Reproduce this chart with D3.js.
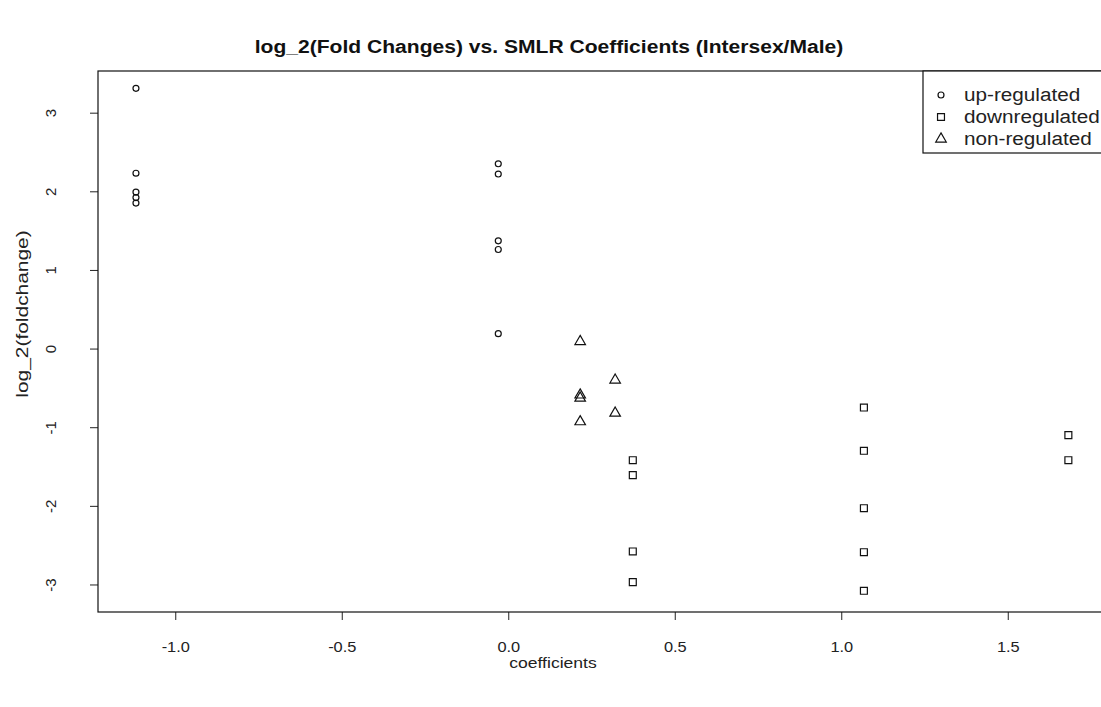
<!DOCTYPE html>
<html lang="en">
<head>
  <meta charset="UTF-8">
  <title>log_2(Fold Changes) vs. SMLR Coefficients</title>
  <script src="https://d3js.org/d3.v7.min.js"></script>
  <style>
    body { margin: 0; background: #fff; }
    svg { display: block; font-family: "Liberation Sans", Arial, sans-serif; }
    .tick text { fill: #222; }
  </style>
</head>
<body>
  <svg id="chart" width="1101" height="707"></svg>

  <script>
    // values
    const upX = [-1.118, -1.118, -1.118, -1.118, -1.118, -0.030, -0.030, -0.030, -0.030, -0.030];
    const upY = [3.31, 2.23, 1.99, 1.92, 1.85, 2.35, 2.22, 1.37, 1.26, 0.19];

    const downX = [0.374, 0.374, 0.374, 0.374, 1.068, 1.068, 1.068, 1.068, 1.068, 1.682, 1.682];
    const downY = [-1.42, -1.61, -2.58, -2.97, -0.75, -1.30, -2.03, -2.59, -3.08, -1.10, -1.42];

    const nonX = [0.216, 0.321, 0.216, 0.216, 0.321, 0.216];
    const nonY = [0.09, -0.40, -0.59, -0.63, -0.82, -0.93];

    const xTicks = [-1.0, -0.5, 0.0, 0.5, 1.0, 1.5];
    const yTicks = [-3, -2, -1, 0, 1, 2, 3];

    const legendLabels = ["up-regulated", "downregulated", "non-regulated"];

    const svg = d3.select("#chart");
    const plotLeft = 98, plotRight = 1105, plotTop = 71, plotBottom = 612;
    const widen = 1.17; // the original text is a bit wider than Liberation Sans

    const x = d3.scaleLinear().domain([-1.232, 1.792]).range([plotLeft, plotRight]);
    const y = d3.scaleLinear().domain([-3.35, 3.53]).range([plotBottom, plotTop]);

    function stretch(sel, k) {
      sel.each(function () {
        const w = this.getComputedTextLength();
        d3.select(this).attr("textLength", w * k).attr("lengthAdjust", "spacingAndGlyphs");
      });
    }

    // title
    svg.append("text")
      .attr("x", 549).attr("y", 53)
      .attr("text-anchor", "middle")
      .style("font-weight", "bold")
      .style("font-size", "18px")
      .attr("fill", "#111")
      .text("log_2(Fold Changes) vs. SMLR Coefficients (Intersex/Male)")
      .call(stretch, widen);

    // axes
    const xAxis = svg.append("g")
      .attr("transform", `translate(0,${plotBottom})`)
      .call(d3.axisBottom(x).tickValues(xTicks).tickFormat(d => d.toFixed(1)).tickSize(8).tickPadding(22));
    xAxis.select(".domain").remove();
    xAxis.selectAll(".tick line").attr("stroke", "#222");
    xAxis.selectAll(".tick text")
      .attr("font-family", null)
      .style("font-size", "14px")
      .call(stretch, widen);

    const yAxis = svg.append("g")
      .attr("transform", `translate(${plotLeft},0)`)
      .call(d3.axisLeft(y).tickValues(yTicks).tickFormat(d => String(d)).tickSize(8));
    yAxis.select(".domain").remove();
    yAxis.selectAll(".tick line").attr("stroke", "#222");
    yAxis.selectAll(".tick text")
      .attr("transform", "rotate(-90)")
      .attr("x", 0).attr("y", -42).attr("dy", 0)
      .attr("text-anchor", "middle")
      .attr("font-family", null)
      .style("font-size", "15px");

    // plot box
    svg.append("rect")
      .attr("x", plotLeft).attr("y", plotTop)
      .attr("width", plotRight - plotLeft).attr("height", plotBottom - plotTop)
      .attr("fill", "none").attr("stroke", "#111").attr("stroke-width", 1.2);

    // axis titles
    svg.append("text")
      .attr("x", 553).attr("y", 668)
      .attr("text-anchor", "middle")
      .style("font-size", "15px").attr("fill", "#222")
      .text("coefficients")
      .call(stretch, widen);

    svg.append("text")
      .attr("transform", "translate(28,314) rotate(-90)")
      .attr("text-anchor", "middle")
      .style("font-size", "17px").attr("fill", "#222")
      .text("log_2(foldchange)")
      .call(stretch, 1.23);

    // symbols
    const circleSym = d3.symbol().type(d3.symbolCircle).size(28);
    const squareSym = d3.symbol().type(d3.symbolSquare).size(48);
    const triSym = d3.symbol().type(d3.symbolTriangle).size(48);

    function drawPoints(xs, ys, sym) {
      svg.append("g").selectAll("path")
        .data(xs.map((v, i) => [v, ys[i]]))
        .join("path")
        .attr("transform", d => `translate(${x(d[0])},${y(d[1])})`)
        .attr("d", sym)
        .attr("fill", "none")
        .attr("stroke", "#111")
        .attr("stroke-width", 1.2);
    }

    drawPoints(upX, upY, circleSym);
    drawPoints(downX, downY, squareSym);
    drawPoints(nonX, nonY, triSym);

    // legend
    const legend = svg.append("g");
    legend.append("rect")
      .attr("x", 923).attr("y", plotTop)
      .attr("width", plotRight - 923).attr("height", 82)
      .attr("fill", "#fff").attr("stroke", "#111").attr("stroke-width", 1.2);

    const legendSyms = [circleSym, squareSym, triSym];
    legendLabels.forEach((lab, i) => {
      const cy = 95 + i * 22;
      legend.append("path")
        .attr("transform", `translate(941,${cy})`)
        .attr("d", legendSyms[i])
        .attr("fill", "none").attr("stroke", "#111").attr("stroke-width", 1.2);
      legend.append("text")
        .attr("x", 964).attr("y", cy + 6)
        .style("font-size", "18px").attr("fill", "#222")
        .text(lab)
        .call(stretch, 1.15);
    });
  </script>
</body>
</html>
